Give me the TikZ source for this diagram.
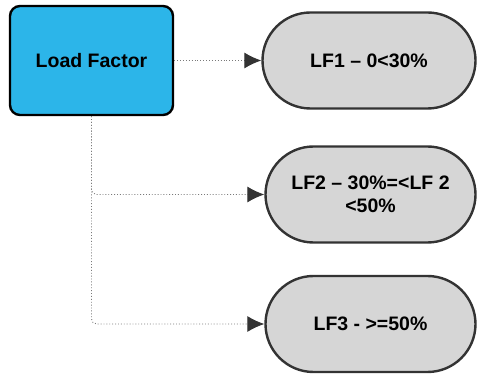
\documentclass[tikz,border=0pt]{standalone}
\usepackage{fontspec}
\setmainfont{Liberation Sans}
\usetikzlibrary{arrows.meta}
\definecolor{boxblue}{HTML}{2CB5E9}
\definecolor{pillgray}{HTML}{D6D6D6}
\definecolor{edgegray}{HTML}{333333}
\definecolor{linegray}{HTML}{7A7A7A}
\begin{document}
\begin{tikzpicture}[x=1pt,y=-1pt,
  mainbox/.style={draw=black, line width=2.4pt, fill=boxblue, rounded corners=10pt,
    minimum width=163pt, minimum height=109pt, inner sep=0pt,
    font=\fontsize{19.5}{23}\selectfont\bfseries, align=center},
  pill/.style={draw=edgegray, line width=2.4pt, fill=pillgray, rounded corners=48pt,
    minimum height=96pt, inner sep=0pt, font=\fontsize{19.5}{23}\selectfont\bfseries, align=center},
  conn/.style={draw=linegray, line width=0.9pt, dotted, rounded corners=5pt,
    -{Latex[length=17pt,width=16pt,color=edgegray]}}
]
\useasboundingbox (0,0) rectangle (477,374);
\node[mainbox] (lf) at (91.5,60.5) {Load Factor};
\node[pill, minimum width=213pt] (lf1) at (369,60.5) {LF1 -- 0<30\%};
\node[pill, minimum width=210pt] (lf2) at (370.5,194.5) {LF2 -- 30\%=<LF 2\\<50\%};
\node[pill, minimum width=210pt] (lf3) at (370.5,324) {LF3 - >=50\%};
\draw[conn] (lf.east) -- (lf1.west);
\draw[conn] (lf.south) |- (lf2.west);
\draw[conn] (lf.south) |- (lf3.west);
\end{tikzpicture}
\end{document}
